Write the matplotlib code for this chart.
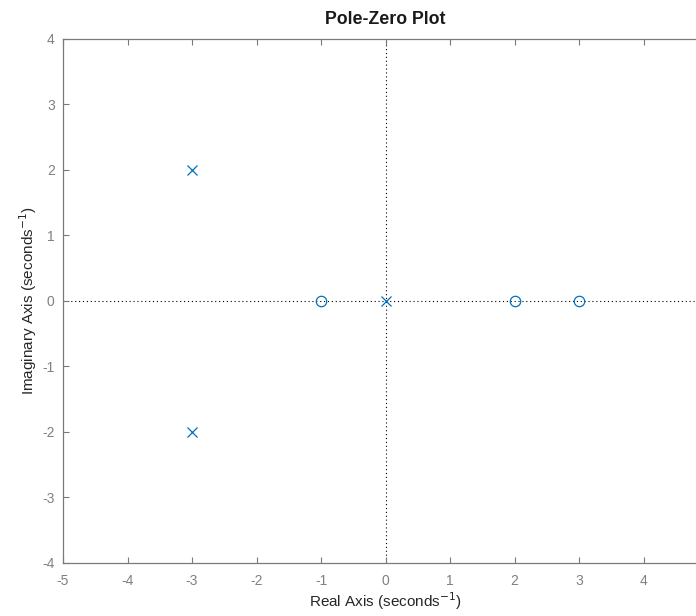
import matplotlib
matplotlib.use("Agg")
import matplotlib.pyplot as plt

plt.rcParams['font.family'] = ['Liberation Sans', 'DejaVu Sans']
plt.rcParams['axes.unicode_minus'] = False

pole_re = [-3, -3, 0]
pole_im = [2, -2, 0]
zero_re = [-1, 2, 3]
zero_im = [0, 0, 0]
xticks = [-5, -4, -3, -2, -1, 0, 1, 2, 3, 4, 5]
yticks = [-4, -3, -2, -1, 0, 1, 2, 3, 4]

fig = plt.figure(figsize=(6.96, 6.16), dpi=100)
ax = fig.add_axes([63/696, (616-562.7)/616, 645/696, 523.7/616])

blue = '#0072BD'
ax.axhline(0, color='black', lw=0.8, ls=(0, (1, 2.5)), zorder=1)
ax.axvline(0, color='black', lw=0.8, ls=(0, (1, 2.5)), zorder=1)
ax.plot(pole_re, pole_im, ls='none', marker='x', color=blue, ms=7, mew=0.9, zorder=3)
ax.plot(zero_re, zero_im, ls='none', marker='o', mfc='none', mec=blue, ms=7.5, mew=0.9, zorder=3)

ax.set_xlim(-5, 5)
ax.set_ylim(-4, 4)
ax.set_xticks(xticks)
ax.set_yticks(yticks)
for s in ax.spines.values():
    s.set_color('#7a7a7a')
    s.set_linewidth(0.9)
ax.tick_params(direction='in', length=4, width=0.8, color='#7a7a7a',
               labelcolor='#808080', labelsize=10, top=True, right=True)
ax.tick_params(axis='x', pad=8)
ax.tick_params(axis='y', pad=6)
ax.set_title('Pole-Zero Plot', fontsize=12.8, fontweight='bold', color='#1a1a1a', pad=11)
ax.set_xlabel('Real Axis (seconds$^{-1}$)', fontsize=11, color='#262626', labelpad=2)
ax.set_ylabel('Imaginary Axis (seconds$^{-1}$)', fontsize=11, color='#262626', labelpad=2)

fig.savefig('out.png', dpi=100)
